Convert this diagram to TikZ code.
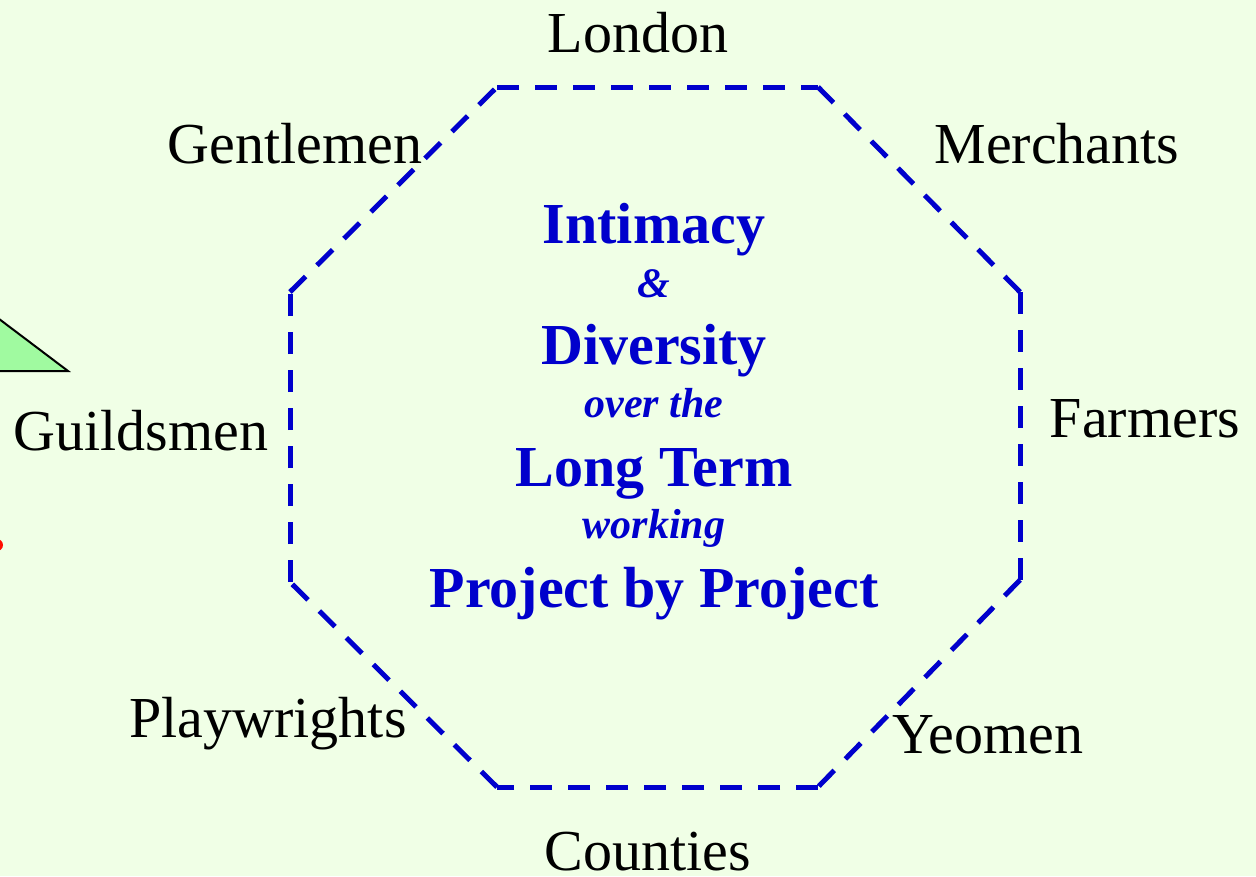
\documentclass[tikz,border=0pt]{standalone}
\usepackage{fontspec}
\setmainfont{Liberation Serif}
\definecolor{paper}{RGB}{240,255,230}
\definecolor{deepblue}{RGB}{0,0,204}
\definecolor{leafgreen}{RGB}{160,250,160}
\tikzset{
  group/.style={font=\fontsize{58}{60}\selectfont, inner sep=0pt, anchor=base},
  motto/.style={font=\fontsize{58}{60}\selectfont\bfseries, text=deepblue, inner sep=0pt, anchor=base},
  linker/.style={font=\fontsize{42}{44}\selectfont\bfseries\itshape, text=deepblue, inner sep=0pt, anchor=base},
  ring/.style={deepblue, line width=5pt, dash pattern=on 22pt off 16pt}
}
\begin{document}
\begin{tikzpicture}[x=1pt,y=-1pt]

\useasboundingbox (0,0) rectangle (1256,876);
\fill[paper] (0,0) rectangle (1256,876);

\begin{scope}
 \clip (0,0) rectangle (1256,876);
 \filldraw[fill=leafgreen, draw=black, line width=2pt] (-30,297)--(68,371)--(-30,371)--cycle;
 \fill[red!90!orange] (-3,545) circle (6);
\end{scope}

% the ring, one edge at a time
 \coordinate (n1) at (497,87);
 \coordinate (n2) at (818,87);
 \coordinate (n3) at (1020,292);
 \coordinate (n4) at (1020,580);
 \coordinate (n5) at (818,787);
 \coordinate (n6) at (497,787);
 \coordinate (n7) at (290,582);
 \coordinate (n8) at (290,292);
 \foreach \a/\b in {n1/n2,n2/n3,n3/n4,n4/n5,n5/n6,n6/n7,n7/n8,n8/n1}
  \draw[ring] (\a)--(\b);

% who takes part
 \node[group] (london) at (638,52) {London};
 \node[group] (gentle) at (295,163) {Gentlemen};
 \node[group] (merch) at (1057,163) {Merchants};
 \node[group] (farm) at (1145,437) {Farmers};
 \node[group] (guild) at (141,450) {Guildsmen};
 \node[group] (plays) at (268,737) {Playwrights};
 \node[group] (yeo) at (988,753) {Yeomen};
 \node[group] (count) at (648,870) {Counties};

% what holds it together
 \node[motto] (intim) at (654,243) {Intimacy};
 \node[linker] (amp) at (654,297) {\&};
 \node[motto] (diver) at (654,364) {Diversity};
 \node[linker] (over) at (654,417) {over the};
 \node[motto] (longt) at (654,486) {Long Term};
 \node[linker] (work) at (654,538) {working};
 \node[motto] (proj) at (654,607) {Project by Project};
\end{tikzpicture}
\end{document}
